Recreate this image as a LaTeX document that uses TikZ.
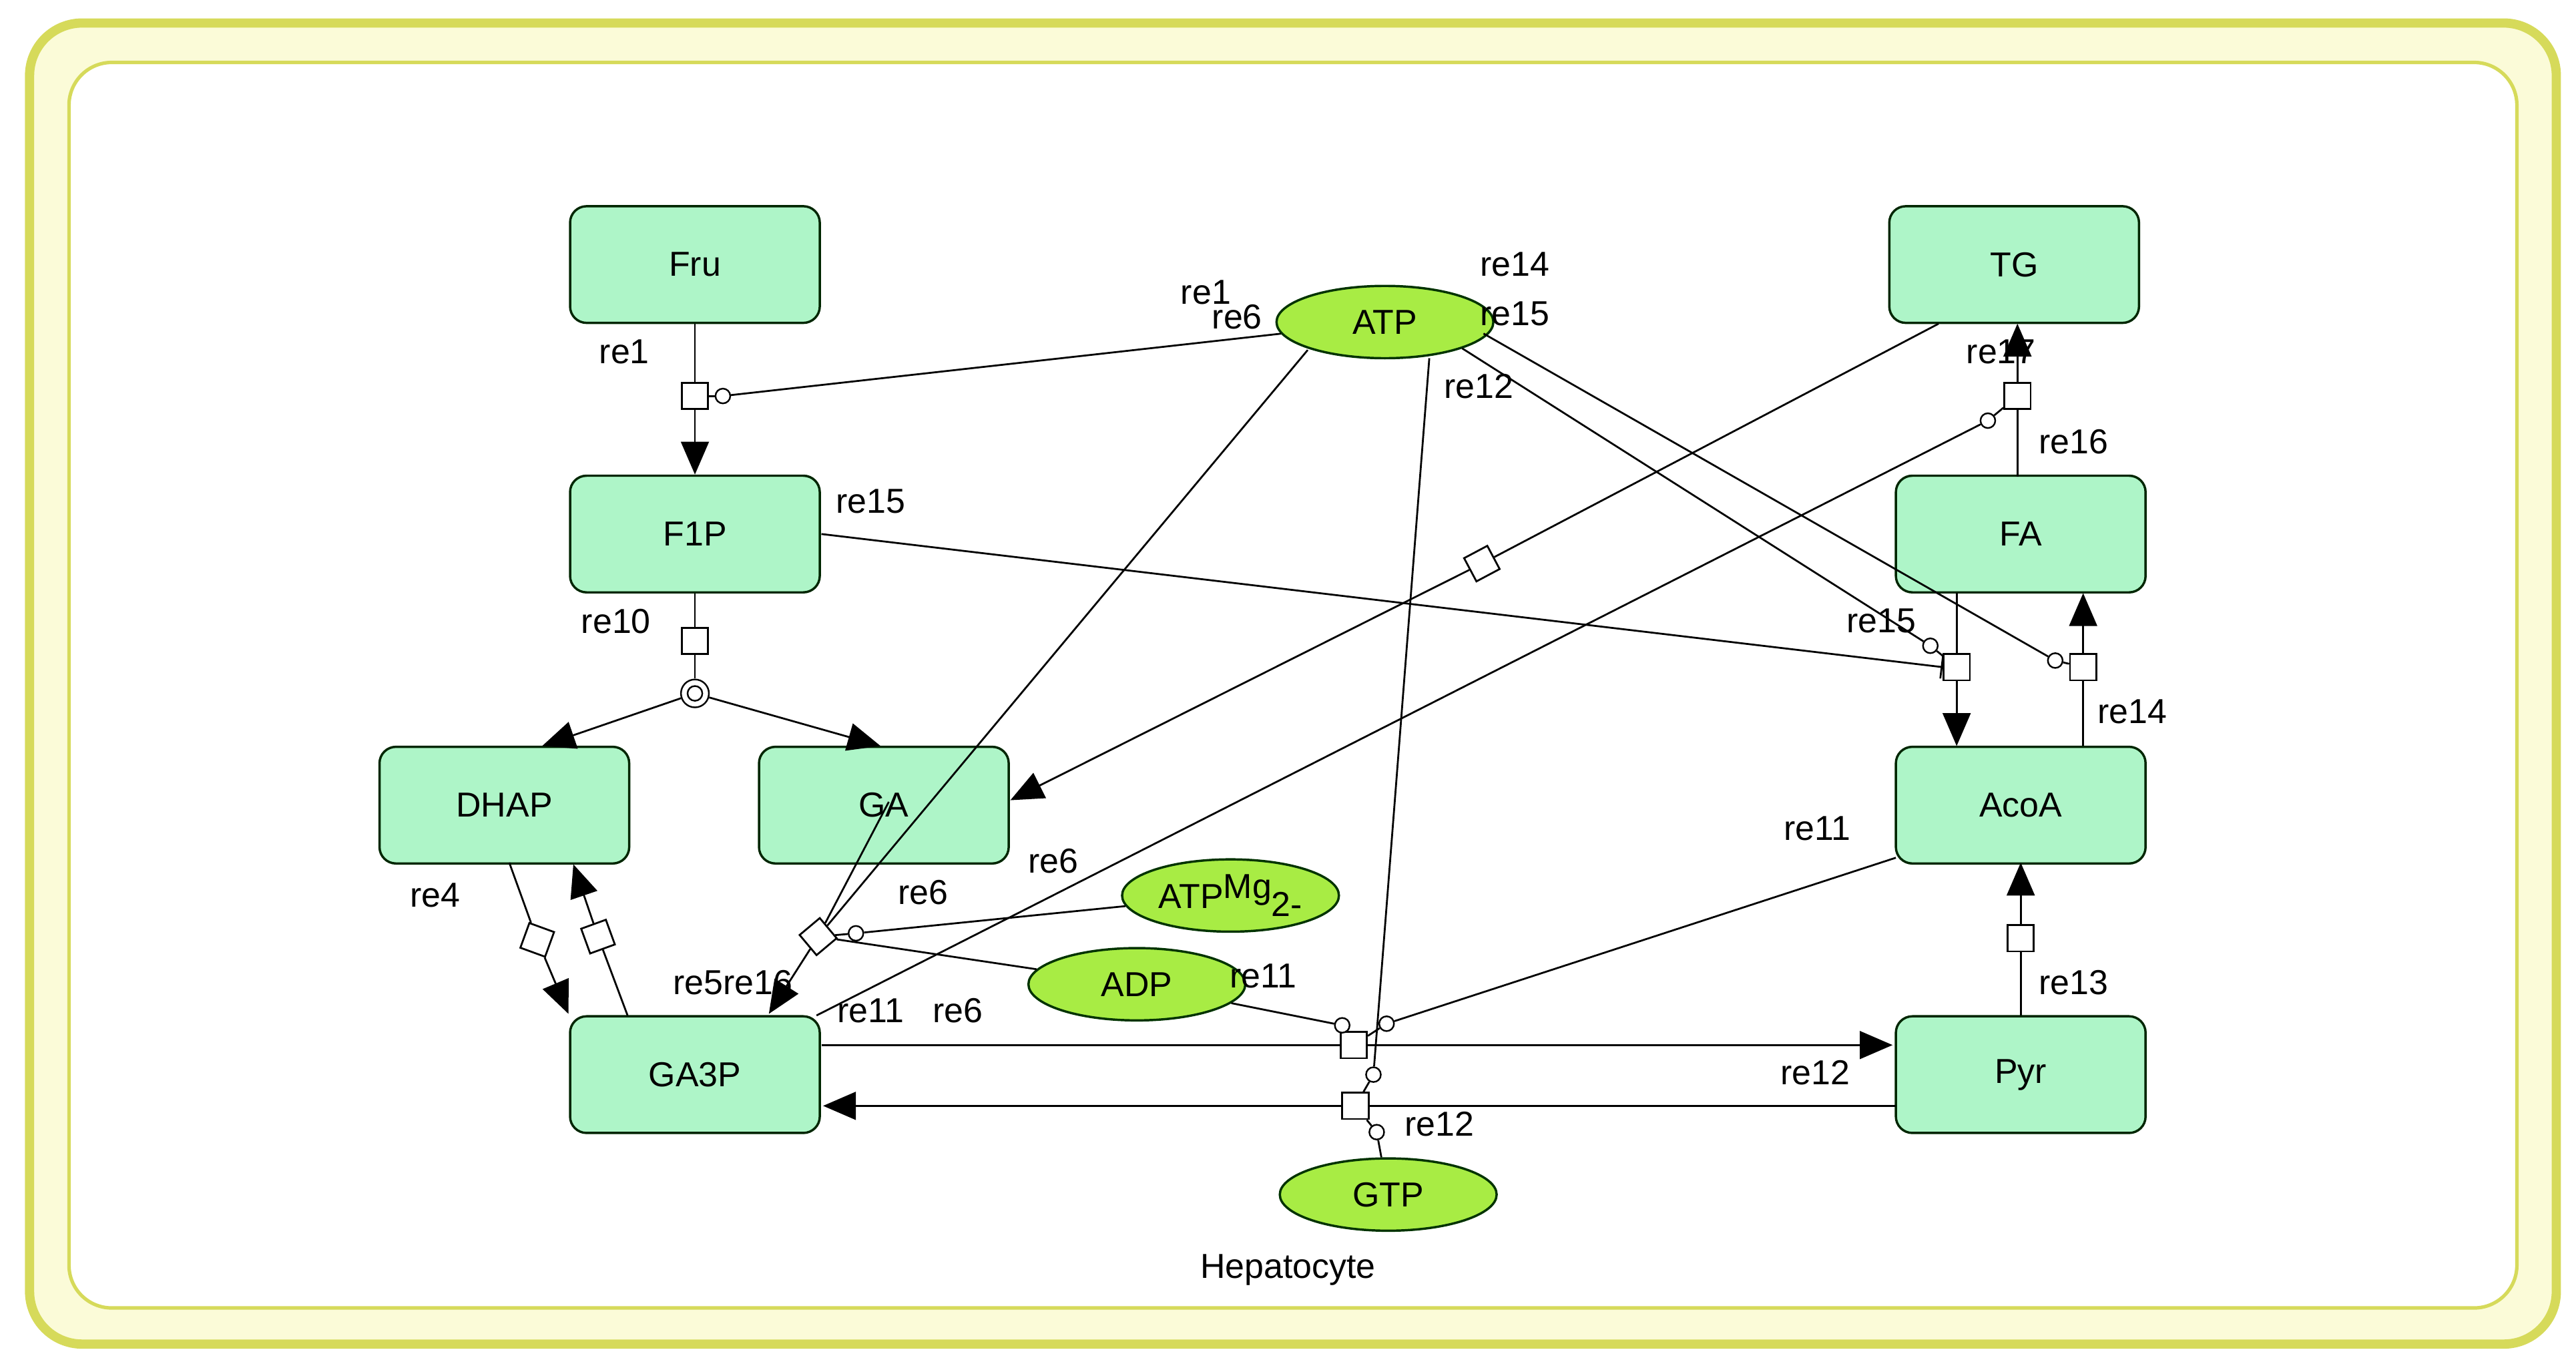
\documentclass[tikz,border=0pt]{standalone}
\usepackage{fontspec}
\setmainfont{Liberation Sans}
\usetikzlibrary{arrows.meta,shapes.geometric}
\definecolor{boxg}{HTML}{AEF5C8}
\definecolor{ellg}{HTML}{A8EC44}
\definecolor{frm}{HTML}{D6DA5A}
\definecolor{frmfill}{HTML}{FBFBD8}
\begin{document}
\begin{tikzpicture}[x=0.05cm,y=-0.05cm,
  font=\fontsize{30}{33}\selectfont,
  spec/.style={draw=black!85!green,line width=2pt,fill=boxg,rounded corners=0.5cm,minimum width=7.6cm,minimum height=3.55cm},
  ell/.style={draw=black!80!green,line width=2pt,fill=ellg,ellipse,minimum width=6.6cm,minimum height=2.2cm,inner sep=0pt},
  rsq/.style={draw,line width=1.6pt,fill=white,minimum size=0.8cm,inner sep=0pt},
  mc/.style={draw,circle,line width=1.4pt,fill=white,minimum size=0.45cm,inner sep=0pt},
  ln/.style={line width=1.6pt},
  tri/.style={-{Triangle[length=1.0cm,width=0.85cm]}},
  inh/.style={-{Bar[width=0.7cm]}},
  lab/.style={inner sep=0pt}]
\useasboundingbox (0,0) rectangle (1568,830);
\draw[frm,line width=8pt,fill=frmfill,rounded corners=1.6cm] (18,14) rectangle (1556,818);
\draw[frm,line width=3pt,fill=white,rounded corners=1.3cm] (42,38) rectangle (1532,796);
% species
\node[spec] (Fru) at (423,161) {Fru};
\node[spec] (F1P) at (423,325) {F1P};
\node[spec] (DHAP) at (307,490) {DHAP};
\node[spec] (GA) at (538,490) {GA};
\node[spec] (GA3P) at (423,654) {GA3P};
\node[spec] (TG) at (1226,161) {TG};
\node[spec] (FA) at (1230,325) {FA};
\node[spec] (AcoA) at (1230,490) {AcoA};
\node[spec] (Pyr) at (1230,654) {Pyr};
\node[ell] (ATP) at (843,196) {ATP};
\node[ell] (ATPMg) at (749,545) {ATP\raisebox{0.55ex}{Mg}\raisebox{-0.45ex}{2-}};
\node[ell] (ADP) at (692,599) {ADP};
\node[ell] (GTP) at (845,727) {GTP};
\node[lab] (hep) at (784,773) {Hepatocyte};
% coordinates
\coordinate (dhapT) at (330,454);
\coordinate (gaT) at (536,454);
\coordinate (dhapB4) at (310,525);
\coordinate (ga3pT4) at (346,617);
\coordinate (ga3pT5) at (382,618);
\coordinate (dhapB5) at (349,526);
\coordinate (gaC) at (541,488);
\coordinate (ga3pT6) at (468,617);
\coordinate (ga3pR11) at (500,636);
\coordinate (pyrL11) at (1152,636);
\coordinate (pyrL12) at (1154,673);
\coordinate (ga3pR12) at (501,673);
\coordinate (acoaL) at (1154,522);
\coordinate (f1pR) at (500,325);
\coordinate (tgBL) at (1180,197);
\coordinate (gaR) at (615,487);
\coordinate (ga3pTR) at (497,618);
\coordinate (atpR14) at (903,203);
\coordinate (atpR15) at (890,212);
\coordinate (atpB12) at (870,218);
\coordinate (atpBL6) at (796,213);
\coordinate (tgB) at (1228,197);
\coordinate (faT) at (1228,290);
\coordinate (faB15) at (1191,361);
\coordinate (acoaT15) at (1191,454);
\coordinate (acoaT14) at (1268,454);
\coordinate (faB14) at (1268,361);
\coordinate (pyrT) at (1230,618);
\coordinate (acoaB) at (1230,525);
% reaction nodes
\node[rsq] (s1) at (423,241) {};
\node[rsq] (s10) at (423,390) {};
\node[draw,circle,line width=1.4pt,fill=white,minimum size=0.85cm,inner sep=0pt] (dc) at (423,422) {};
\node[draw,circle,line width=1.4pt,minimum size=0.45cm,inner sep=0pt] (dci) at (423,422) {};
\node[rsq,rotate=-20] (s4) at (327,572) {};
\node[rsq,rotate=20] (s5) at (364,570) {};
\node[rsq,rotate=40] (s6) at (498,570) {};
\node[rsq] (s11) at (824,636) {};
\node[rsq] (s12) at (825,673) {};
\node[rsq] (s13) at (1230,571) {};
\node[rsq] (s14) at (1268,406) {};
\node[rsq] (s15) at (1191,406) {};
\node[rsq] (s16) at (1228,241) {};
\node[rsq,rotate=28] (s17) at (902,343) {};
% modifier circles
\node[mc] (c1) at (440,241) {};
\node[mc] (c6) at (521,568) {};
\node[mc] (c11a) at (817,624) {};
\node[mc] (c11b) at (844,623) {};
\node[mc] (c12a) at (836,654) {};
\node[mc] (c12b) at (838,689) {};
\node[mc] (c14) at (1251,402) {};
\node[mc] (c15) at (1175,393) {};
\node[mc] (c16) at (1210,256) {};
% re1
\draw[ln] (Fru) -- (s1);
\draw[ln,tri] (s1) -- (F1P);
\draw[ln] (c1) -- (s1);
\draw[ln] (c1) -- (ATP);
% re10
\draw[ln] (F1P) -- (s10);
\draw[ln] (s10) -- (dc);
\draw[ln,tri] (dc) -- (dhapT);
\draw[ln,tri] (dc) -- (gaT);
% re4, re5
\draw[ln] (dhapB4) -- (s4);
\draw[ln,tri] (s4) -- (ga3pT4);
\draw[ln] (ga3pT5) -- (s5);
\draw[ln,tri] (s5) -- (dhapB5);
% re6
\draw[ln] (atpBL6) -- (s6);
\draw[ln] (gaC) -- (s6);
\draw[ln,tri] (s6) -- (ga3pT6);
\draw[ln] (s6) -- (ADP);
\draw[ln] (c6) -- (s6);
\draw[ln] (c6) -- (ATPMg);
% re11
\draw[ln] (ga3pR11) -- (s11);
\draw[ln,tri] (s11) -- (pyrL11);
\draw[ln] (ADP) -- (c11a);
\draw[ln] (c11a) -- (s11);
\draw[ln] (acoaL) -- (c11b);
\draw[ln] (c11b) -- (s11);
% re12
\draw[ln] (pyrL12) -- (s12);
\draw[ln,tri] (s12) -- (ga3pR12);
\draw[ln] (atpB12) -- (c12a);
\draw[ln] (c12a) -- (s12);
\draw[ln] (GTP) -- (c12b);
\draw[ln] (c12b) -- (s12);
% re13
\draw[ln] (pyrT) -- (s13);
\draw[ln,tri] (s13) -- (acoaB);
% re14
\draw[ln] (acoaT14) -- (s14);
\draw[ln,tri] (s14) -- (faB14);
\draw[ln] (atpR14) -- (c14);
\draw[ln] (c14) -- (s14);
% re15
\draw[ln] (faB15) -- (s15);
\draw[ln,tri] (s15) -- (acoaT15);
\draw[ln] (atpR15) -- (c15);
\draw[ln] (c15) -- (s15);
\draw[ln,inh] (f1pR) -- (s15.west);
% re16
\draw[ln] (faT) -- (s16);
\draw[ln,tri] (s16) -- (tgB);
\draw[ln] (ga3pTR) -- (c16);
\draw[ln] (c16) -- (s16);
% re17
\draw[ln] (tgBL) -- (s17);
\draw[ln,tri] (s17) -- (gaR);
% labels
\node[lab] (l1) at (380,214) {re1};
\node[lab] (l1b) at (734,178) {re1};
\node[lab] (l6a) at (753,193) {re6};
\node[lab] (l14a) at (922,161) {re14};
\node[lab] (l15a) at (922,191) {re15};
\node[lab] (l12a) at (900,235) {re12};
\node[lab] (l15b) at (530,305) {re15};
\node[lab] (l10) at (375,378) {re10};
\node[lab] (l17) at (1218,214) {re17};
\node[lab] (l16) at (1262,269) {re16};
\node[lab] (l15c) at (1145,378) {re15};
\node[lab] (l14b) at (1298,433) {re14};
\node[lab] (l11a) at (1106,504) {re11};
\node[lab] (l4) at (265,545) {re4};
\node[lab] (l6b) at (641,524) {re6};
\node[lab] (l6c) at (562,543) {re6};
\node[lab] (l516) at (446,598) {re5re16};
\node[lab] (l11b) at (530,615) {re11};
\node[lab] (l6d) at (583,615) {re6};
\node[lab] (l11c) at (769,594) {re11};
\node[lab] (l13) at (1262,598) {re13};
\node[lab] (l12b) at (1105,653) {re12};
\node[lab] (l12c) at (876,684) {re12};
\end{tikzpicture}
\end{document}
